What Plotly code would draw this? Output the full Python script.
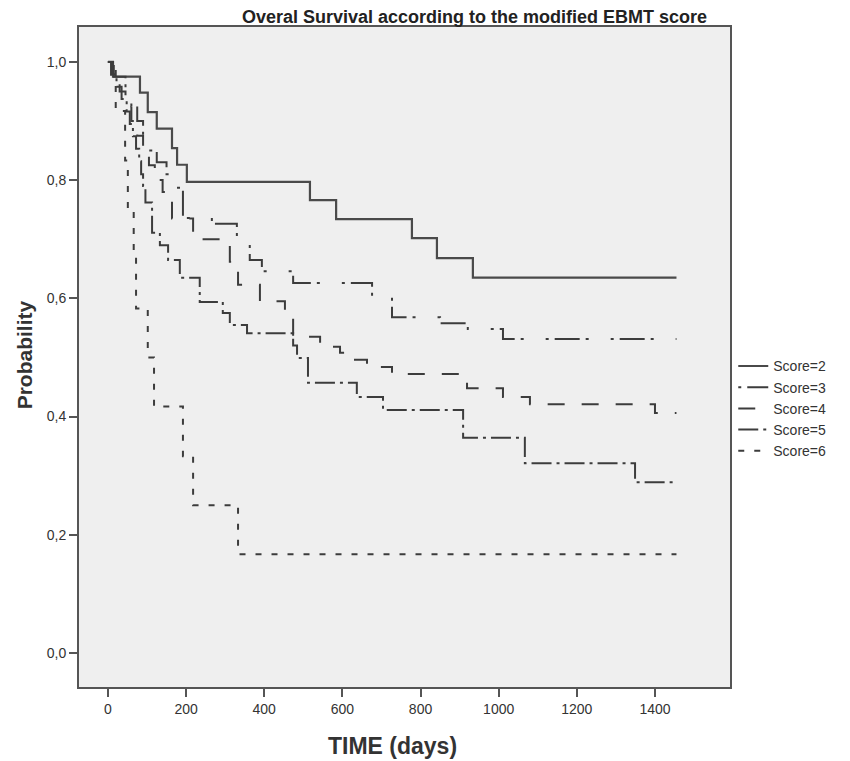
import plotly.graph_objects as go

# ---- data ----
score2_days = [0, 13, 82, 102, 125, 164, 177, 202, 517, 584, 778, 842, 934, 1455]
score2_surv = [1.0, 0.975, 0.948, 0.915, 0.887, 0.854, 0.826, 0.797, 0.766, 0.734, 0.702, 0.668, 0.635, 0.635]

score3_days = [0, 15, 45, 60, 75, 90, 105, 125, 150, 160, 192, 266, 330, 363, 394, 474, 676, 727, 850, 921, 1011, 1455]
score3_surv = [1.0, 0.975, 0.95, 0.925, 0.9, 0.875, 0.85, 0.83, 0.81, 0.787, 0.736, 0.726, 0.694, 0.665, 0.646, 0.626, 0.602, 0.568, 0.558, 0.548, 0.531, 0.531]

score4_days = [0, 8, 30, 45, 60, 75, 90, 105, 120, 140, 164, 218, 312, 333, 389, 453, 474, 543, 594, 612, 663, 727, 919, 1011, 1080, 1400, 1455]
score4_surv = [1.0, 0.975, 0.95, 0.925, 0.9, 0.875, 0.85, 0.825, 0.8, 0.78, 0.735, 0.70, 0.662, 0.623, 0.595, 0.58, 0.535, 0.518, 0.508, 0.496, 0.484, 0.472, 0.448, 0.433, 0.421, 0.406, 0.406]

score5_days = [0, 12, 22, 35, 48, 56, 64, 72, 80, 85, 90, 96, 113, 133, 154, 184, 235, 294, 312, 356, 474, 484, 512, 637, 704, 909, 1067, 1349, 1455]
score5_surv = [1.0, 0.979, 0.958, 0.937, 0.916, 0.895, 0.874, 0.853, 0.832, 0.81, 0.79, 0.762, 0.711, 0.69, 0.665, 0.635, 0.594, 0.575, 0.555, 0.541, 0.52, 0.499, 0.457, 0.433, 0.411, 0.364, 0.321, 0.289, 0.289]

score6_days = [0, 20, 44, 51, 66, 72, 102, 118, 192, 218, 333, 1455]
score6_surv = [1.0, 0.917, 0.833, 0.75, 0.667, 0.583, 0.5, 0.417, 0.333, 0.25, 0.167, 0.167]

series_names = ["Score=2", "Score=3", "Score=4", "Score=5", "Score=6"]

x_tick_vals = [0, 200, 400, 600, 800, 1000, 1200, 1400]
y_tick_vals = [0.0, 0.2, 0.4, 0.6, 0.8, 1.0]
y_tick_text = ["0,0", "0,2", "0,4", "0,6", "0,8", "1,0"]

title_text = "Overal Survival according to the modified EBMT score"
x_title = "TIME (days)"
y_title = "Probability"

# ---- styles ----
series_data = [
    (score2_days, score2_surv),
    (score3_days, score3_surv),
    (score4_days, score4_surv),
    (score5_days, score5_surv),
    (score6_days, score6_surv),
]
dashes = ["solid", "3px,6px,25px,6px,3px,22px", "17px,17px", "20px,5px,3px,5px", "6px,10px"]
widths = [2.2, 2, 2, 2, 2]
colors = ["#4a4a4a", "#3c3c3c", "#3c3c3c", "#3c3c3c", "#3c3c3c"]

fig = go.Figure()
for (d, s), name, dash, w, c in zip(series_data, series_names, dashes, widths, colors):
    fig.add_trace(go.Scatter(
        x=d, y=s, mode="lines", name=name,
        line=dict(shape="hv", dash=dash, width=w, color=c),
    ))

FONT = "Liberation Sans, Arial, sans-serif"
axis_font = dict(family=FONT, size=14, color="#333333")

# page body has an 8px margin, so the figure is 842x753 and offset accordingly
fig.update_layout(
    width=842, height=753,
    margin=dict(l=71, r=120, t=19, b=74),
    paper_bgcolor="white",
    plot_bgcolor="#efefef",
    showlegend=True,
    legend=dict(
        x=1.005, y=0.51, xanchor="left", yanchor="top",
        font=dict(family=FONT, size=14, color="#333333"),
        bgcolor="rgba(0,0,0,0)", itemwidth=30, tracegroupgap=0,
    ),
    xaxis=dict(
        range=[-74, 1592], tickvals=x_tick_vals, ticks="outside", ticklen=8, tickwidth=1.5,
        tickcolor="#555555", showline=True, linecolor="#555555", linewidth=2, mirror=True,
        showgrid=False, zeroline=False, tickfont=axis_font,
    ),
    yaxis=dict(
        range=[-0.0575, 1.059], tickvals=y_tick_vals, ticktext=y_tick_text, ticks="outside",
        ticklen=8, tickwidth=1.5, tickcolor="#555555", showline=True, linecolor="#555555",
        linewidth=2, mirror=True, showgrid=False, zeroline=False, tickfont=axis_font,
    ),
    annotations=[
        dict(text="<b>" + title_text + "</b>", xref="paper", yref="paper", x=0.608, y=1.015,
             xanchor="center", yanchor="middle", showarrow=False,
             font=dict(family=FONT, size=18, color="#222222")),
        dict(text="<b>" + x_title + "</b>", xref="paper", yref="paper", x=0.482, y=-0.09,
             xanchor="center", yanchor="middle", showarrow=False,
             font=dict(family=FONT, size=23, color="#333333")),
        dict(text="<b>" + y_title + "</b>", xref="paper", yref="paper", x=-0.084, y=0.503,
             xanchor="center", yanchor="middle", showarrow=False, textangle=-90,
             font=dict(family=FONT, size=21, color="#333333")),
    ],
)

fig.write_html("out.html")
